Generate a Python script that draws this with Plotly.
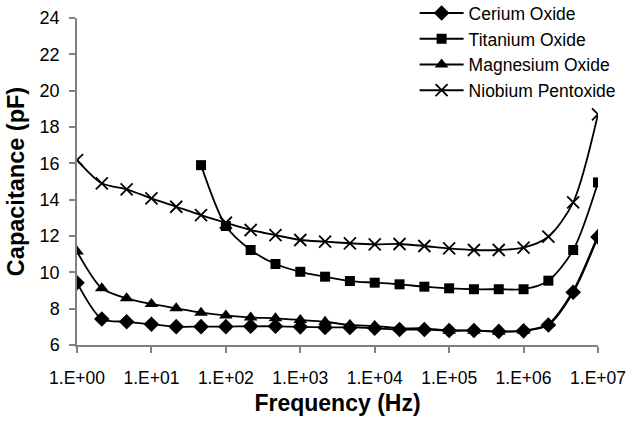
import plotly.graph_objects as go

# Frequencies: 3 points per decade from 1 Hz to 10 MHz
freq = [1, 2.154, 4.642, 10, 21.54, 46.42, 100, 215.4, 464.2, 1e3, 2154, 4642,
        1e4, 21540, 46420, 1e5, 215400, 464200, 1e6, 2.154e6, 4.642e6, 1e7]

cerium = [9.43, 7.43, 7.28, 7.14, 7.01, 7.01, 7.01, 7.03, 7.03, 7.0, 6.97, 6.97,
          6.92, 6.85, 6.85, 6.8, 6.8, 6.75, 6.78, 7.1, 8.9, 11.95]
titanium_freq = freq[5:]
titanium = [15.9, 12.55, 11.23, 10.46, 10.03, 9.76, 9.52, 9.43, 9.34, 9.21, 9.12,
            9.07, 9.07, 9.07, 9.54, 11.23, 14.95]
magnesium = [11.14, 9.12, 8.57, 8.26, 8.02, 7.78, 7.63, 7.52, 7.47, 7.38, 7.28, 7.1,
             7.05, 6.92, 6.92, 6.79, 6.79, 6.73, 6.79, 7.16, 8.99, 12.05]
niobium = [16.18, 14.9, 14.57, 14.07, 13.61, 13.15, 12.73, 12.33, 12.05, 11.78, 11.69,
           11.6, 11.54, 11.56, 11.45, 11.32, 11.23, 11.23, 11.36, 11.96, 13.85, 18.7]

x_tickvals = [1, 10, 100, 1e3, 1e4, 1e5, 1e6, 1e7]
x_ticktext = ["1.E+00", "1.E+01", "1.E+02", "1.E+03", "1.E+04", "1.E+05", "1.E+06", "1.E+07"]
y_tickvals = [6, 8, 10, 12, 14, 16, 18, 20, 22, 24]

FONT = "Liberation Sans, Arial, sans-serif"
line = dict(color="black", width=1.8, shape="spline", smoothing=0.8)

fig = go.Figure()
fig.add_trace(go.Scatter(x=freq, y=cerium, name="Cerium Oxide", mode="lines+markers",
                         line=line, marker=dict(symbol="diamond", size=12, color="black")))
fig.add_trace(go.Scatter(x=titanium_freq, y=titanium, name="Titanium Oxide", mode="lines+markers",
                         line=line, marker=dict(symbol="square", size=10, color="black")))
fig.add_trace(go.Scatter(x=freq, y=magnesium, name="Magnesium Oxide", mode="lines+markers",
                         line=line, marker=dict(symbol="triangle-up", size=12, color="black")))
fig.add_trace(go.Scatter(x=freq, y=niobium, name="Niobium Pentoxide", mode="lines+markers",
                         line=line, marker=dict(symbol="x-thin", size=12, color="black",
                                                line=dict(color="black", width=1.8))))

fig.update_layout(
    width=626, height=423,
    margin=dict(l=77, r=28, t=18, b=78, autoexpand=False),
    paper_bgcolor="white", plot_bgcolor="white",
    font=dict(family=FONT, color="black"),
    showlegend=True,
    legend=dict(x=0.648, y=1.07, xanchor="left", yanchor="top", itemwidth=44,
                font=dict(size=17.5, family=FONT), bgcolor="rgba(0,0,0,0)",
                tracegroupgap=0, itemsizing="trace"),
)
fig.update_xaxes(type="log", range=[0, 7], tickvals=x_tickvals, ticktext=x_ticktext,
                 automargin=False,
                 showgrid=False, zeroline=False, showline=True, linecolor="#808080", linewidth=1.5,
                 ticks="outside", ticklen=6, tickcolor="#808080", tickwidth=1.5,
                 tickfont=dict(size=17.5, family=FONT), ticklabelstandoff=10,
                 title=dict(text="<b>Frequency (Hz)</b>", font=dict(size=23, family=FONT), standoff=8))
fig.update_yaxes(range=[6, 24], tickvals=y_tickvals, automargin=False,
                 showgrid=False, zeroline=False, showline=True, linecolor="#808080", linewidth=1.5,
                 ticks="outside", ticklen=6, tickcolor="#808080", tickwidth=1.5,
                 tickfont=dict(size=18, family=FONT), ticklabelstandoff=6,
                 title=dict(text="<b>Capacitance (pF)</b>", font=dict(size=23.5, family=FONT), standoff=8))

fig.write_html("out.html")
